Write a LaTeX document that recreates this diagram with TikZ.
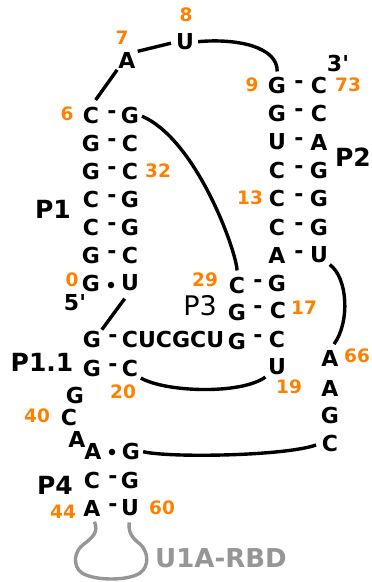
\documentclass[tikz,border=0pt]{standalone}
\usepackage{fontspec}
\setmainfont{DejaVu Sans}
\definecolor{orn}{RGB}{255,128,0}
\definecolor{gry}{RGB}{150,150,150}
\begin{document}
\begin{tikzpicture}[x=1pt,y=-1pt,
  base/.style={font=\bfseries\fontsize{22}{26}\selectfont, inner sep=0pt},
  numo/.style={font=\bfseries\fontsize{18.5}{22}\selectfont, text=orn, inner sep=0pt},
  plab/.style={font=\bfseries\fontsize{25}{30}\selectfont, inner sep=0pt},
  bondline/.style={line width=3.4pt},
  loopline/.style={line width=3.4pt, draw=gry},
  pdot/.style={circle, fill, inner sep=0pt, minimum size=6.5pt}]
\useasboundingbox (0,0) rectangle (372,582);
% top loop
\node[numo] (n8) at (186,15) {8};
\node[base] (u8) at (185,42) {U};
\node[numo] (n7) at (122,38) {7};
\node[base] (a7) at (127,60) {A};
% P1
\node[numo] (n6) at (67,114) {6};
\node[base] (c6) at (91,115) {C};
\node[base] (d6) at (112,115) {-};
\node[base] (g6r) at (130,115) {G};
\node[base] (g5) at (91,143) {G};
\node[base] (d5) at (112,143) {-};
\node[base] (c5r) at (130,143) {C};
\node[base] (g4) at (91,171) {G};
\node[base] (d4) at (112,171) {-};
\node[base] (c4r) at (130,171) {C};
\node[numo] (n32) at (158,171) {32};
\node[base] (c3) at (91,199) {C};
\node[base] (d3) at (112,199) {-};
\node[base] (g3r) at (130,199) {G};
\node[base] (c2) at (91,227) {C};
\node[base] (d2) at (112,227) {-};
\node[base] (g2r) at (130,227) {G};
\node[base] (g1) at (91,255) {G};
\node[base] (d1) at (112,255) {-};
\node[base] (c1r) at (130,255) {C};
\node[numo] (n0) at (72,280) {0};
\node[base] (g0) at (91,283) {G};
\node[pdot] (dot0) at (111,285) {};
\node[base] (u0) at (130,283) {U};
\node[base] (p5) at (75,303) {5\textquotesingle};
\node[plab] (lp1) at (53,209) {P1};
% P2
\node[base] (p3end) at (338,63) {3\textquotesingle};
\node[numo] (n9) at (252,85) {9};
\node[base] (g9) at (277,85) {G};
\node[base] (d9) at (299,85) {-};
\node[base] (c73) at (319,85) {C};
\node[numo] (n73) at (348,85) {73};
\node[base] (g10) at (277,113) {G};
\node[base] (d10) at (299,113) {-};
\node[base] (c72) at (319,113) {C};
\node[base] (u11) at (277,142) {U};
\node[base] (d11) at (299,142) {-};
\node[base] (a71) at (319,142) {A};
\node[base] (c12) at (277,170) {C};
\node[base] (d12) at (299,170) {-};
\node[base] (g70) at (319,170) {G};
\node[numo] (n13) at (250,198) {13};
\node[base] (c13) at (277,198) {C};
\node[base] (d13) at (299,198) {-};
\node[base] (g69) at (319,198) {G};
\node[base] (c14) at (277,227) {C};
\node[base] (d14) at (299,227) {-};
\node[base] (g68) at (319,227) {G};
\node[base] (a15) at (277,255) {A};
\node[base] (d15) at (299,255) {-};
\node[base] (u62) at (319,255) {U};
\node[plab] (lp2) at (353,157) {P2};
% P3
\node[numo] (n29) at (205,280) {29};
\node[base] (c29) at (237,285) {C};
\node[base] (d29) at (258,284) {-};
\node[base] (g16) at (277,283) {G};
\node[font=\fontsize{27}{30}\selectfont, inner sep=0pt] (lp3) at (200,306) {P3};
\node[base] (g30) at (237,312) {G};
\node[base] (d30) at (258,310) {-};
\node[base] (c17) at (278,310) {C};
\node[numo] (n17) at (304,308) {17};
\node[base] (gpa) at (92,339) {G};
\node[base] (dpa) at (113,339) {-};
\node[base] (cucgcu) at (173,339) {CUCGCU};
\node[base] (g31) at (237,341) {G};
\node[base] (d31) at (258,339) {-};
\node[base] (c18) at (277,339) {C};
\node[base] (u19) at (277,367) {U};
\node[numo] (n19) at (289,387) {19};
% P1.1
\node[plab] (lp11) at (42,362) {P1.1};
\node[base] (gpb) at (92,368) {G};
\node[base] (dpb) at (113,368) {-};
\node[base] (c20) at (130,368) {C};
\node[numo] (n20) at (123,392) {20};
% strand to P4
\node[base] (g38) at (75,395) {G};
\node[base] (c39) at (69,417) {C};
\node[numo] (n40) at (37,416) {40};
\node[base] (a41) at (77,439) {A};
\node[base] (a42) at (93,451) {A};
\node[pdot] (dot42) at (112,452) {};
\node[base] (g42r) at (131,451) {G};
% P4
\node[plab] (lp4) at (55,485) {P4};
\node[base] (c43) at (92,480) {C};
\node[base] (d43) at (113,480) {-};
\node[base] (g61) at (130,480) {G};
\node[numo] (n44) at (63,512) {44};
\node[base] (a44) at (92,508) {A};
\node[base] (d44) at (113,508) {-};
\node[base] (u60) at (130,508) {U};
\node[numo] (n60) at (162,508) {60};
% right strand
\node[base] (a66) at (330,358) {A};
\node[numo] (n66) at (357,356) {66};
\node[base] (a65) at (330,388) {A};
\node[base] (g64) at (330,415) {G};
\node[base] (c63) at (330,443) {C};
\node[font=\bfseries\fontsize{26}{30}\selectfont, text=gry, inner sep=0pt] (rbd) at (221,558) {U1A-RBD};
% connectors
\draw[bondline, shorten <=8pt, shorten >=2pt] (c6.north) -- (a7.south west);
\draw[bondline, shorten <=2pt, shorten >=5pt] (a7.north east) -- (u8.west);
\draw[bondline, shorten <=4pt, shorten >=5pt] (u8.east) .. controls (240,38) and (278,48) .. (g9.north);
\draw[bondline, shorten <=3pt, shorten >=6pt] (g6r.east) .. controls (197,140) and (237,253) .. (c29.north);
\draw[bondline, shorten <=2pt, shorten >=7pt] (u62.south east) .. controls (348,278) and (350,322) .. (a66.north);
\draw[bondline, shorten <=9pt, shorten >=1pt] (u0.south) -- (gpa.north east);
\draw[bondline, shorten <=3pt, shorten >=3pt] (c20.south east) .. controls (165,392) and (240,395) .. (u19.south west);
\draw[bondline, shorten <=3pt, shorten >=6pt] (g42r.east) .. controls (170,458) and (285,456) .. (c63.west);
\draw[loopline, shorten <=6pt, shorten >=6pt] (a44.south) .. controls (99,532) and (92,538) .. (84,544)
  .. controls (74,551) and (72,566) .. (82,573) .. controls (95,581) and (128,581) .. (140,573)
  .. controls (150,566) and (148,551) .. (140,544) .. controls (132,538) and (128,532) .. (u60.south);
\end{tikzpicture}
\end{document}
